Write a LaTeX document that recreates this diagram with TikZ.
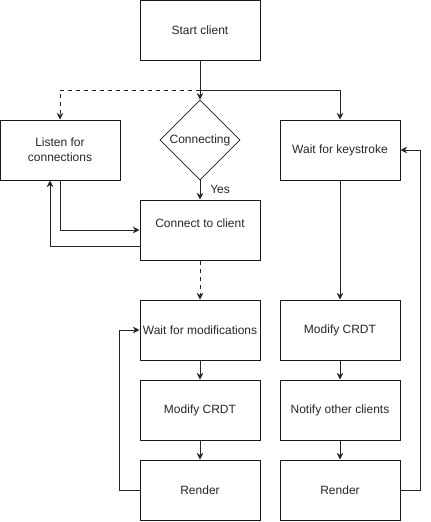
\documentclass[tikz,border=0pt]{standalone}
\usepackage{fontspec}
\setmainfont{Liberation Sans}
\usetikzlibrary{shapes.geometric, arrows.meta}

\begin{document}
\begin{tikzpicture}[x=0.75pt, y=-0.75pt, line width=0.75pt,
        every node/.style={font=\fontsize{9}{11}\selectfont, text=black!85},
        box/.style={rectangle, draw=black!90, minimum width=90pt, minimum height=45pt, inner sep=0pt, align=center},
        dec/.style={diamond, draw=black!90, minimum width=60pt, minimum height=60pt, inner sep=0pt, line width=0.5pt},
        arr/.style={draw=black!85, -{Stealth[length=5pt, width=5pt]}}]
            \useasboundingbox (0, 0) rectangle (430, 522);

            \node[box] (start) at (200, 30) {Start client};
            \node[box] (listen) at (60, 150) {Listen for\\connections};
            \node[dec] (conning) at (200, 140) {Connecting};
            \node[box] (keys) at (340, 150) {Wait for keystroke};
            \node[box, label={[yshift=5pt]center:Connect to client}] (conn) at (200, 230) {};
            \node[box] (waitmod) at (200, 330) {Wait for modifications};
            \node[box] (modl) at (200, 410) {Modify CRDT};
            \node[box] (renderl) at (200, 490) {Render};
            \node[box] (modr) at (340, 330) {Modify CRDT};
            \node[box] (notify) at (340, 410) {Notify other clients};
            \node[box] (renderr) at (340, 490) {Render};
            \coordinate (split) at (200, 90);

            \draw[arr] (start) -- (conning);
            \draw[arr, dashed] (split) -| (listen);
            \draw[arr] (split) -| (keys);
            \draw[arr] (conning) -- node[right, xshift=4pt] {Yes} (conn);
            \draw[arr] (listen) |- (conn);
            \draw[arr] ([yshift=-12pt]conn.west) -| ([xshift=-7.5pt]listen.south);
            \draw[arr, dashed] (conn) -- (waitmod);
            \draw[arr] (waitmod) -- (modl);
            \draw[arr] (modl) -- (renderl);
            \draw[arr] (renderl.west) -- ++(-15pt, 0) |- (waitmod.west);
            \draw[arr] (keys) -- (modr);
            \draw[arr] (modr) -- (notify);
            \draw[arr] (notify) -- (renderr);
            \draw[arr] (renderr.east) -- ++(15pt, 0) |- (keys.east);
        \end{tikzpicture}
\end{document}
